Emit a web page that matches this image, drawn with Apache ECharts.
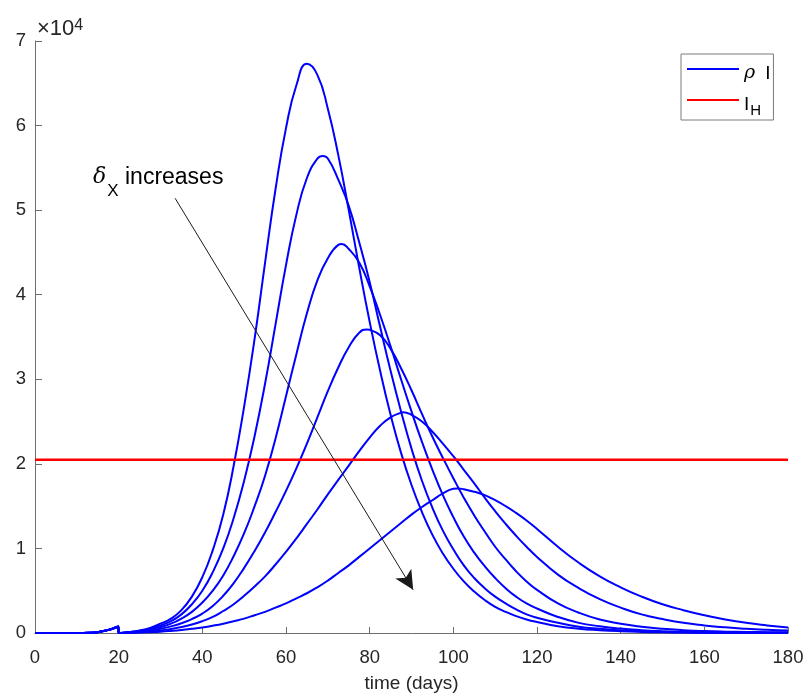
<!DOCTYPE html>
<html>
<head>
<meta charset="utf-8">
<script src="https://cdn.jsdelivr.net/npm/echarts@6/dist/echarts.min.js"></script>
<style>
  html, body { margin: 0; padding: 0; background: #fff; }
  #chart { width: 806px; height: 694px; }
</style>
</head>
<body>
<div id="chart"></div>
<script>
// time axis (days): shared start, then every 2.5 days up to 120, then every 5
const earlyDays = [0, 5, 10, 13, 15, 17, 18.5, 19.9]
const mainDays = [20, 22.5, 25, 27.5, 30, 32.5, 35, 37.5, 40, 42.5, 45, 47.5, 50,
  52.5, 55, 57.5, 60, 62.5, 65, 67.5, 70, 72.5, 75, 77.5, 80, 82.5, 85, 87.5, 90,
  92.5, 95, 97.5, 100, 102.5, 105, 107.5, 110, 112.5, 115, 117.5, 120,
  125, 130, 135, 140, 145, 150, 155, 160, 165, 170, 175, 180]

// shared part before day 20 (x10^4)
const early = [0, 0, 0, 0.003, 0.01, 0.03, 0.05, 0.078]

// rho*I for increasing delta_X, from day 20 on (x10^4)
const curve1 = [0, 0.012, 0.03, 0.06, 0.11, 0.17, 0.27, 0.43, 0.66, 0.98, 1.4, 1.98, 2.68,
  3.48, 4.38, 5.25, 5.97, 6.48, 6.73, 6.6, 6.2, 5.65, 5.0, 4.32, 3.68, 3.1, 2.58, 2.13, 1.75,
  1.43, 1.16, 0.94, 0.76, 0.61, 0.49, 0.39, 0.31, 0.25, 0.2, 0.16, 0.13,
  0.08, 0.05, 0.033, 0.021, 0.013, 0.008, 0.005, 0.003, 0.002, 0.0015, 0.001, 0.001]
const curve2 = [0, 0.01, 0.025, 0.05, 0.09, 0.14, 0.22, 0.34, 0.5, 0.72, 1.0, 1.36, 1.8,
  2.33, 2.95, 3.65, 4.35, 4.95, 5.38, 5.61, 5.61, 5.36, 5.05, 4.62, 4.15, 3.62, 3.1, 2.62, 2.18,
  1.8, 1.48, 1.21, 0.99, 0.8, 0.65, 0.53, 0.43, 0.35, 0.28, 0.22, 0.18,
  0.12, 0.075, 0.05, 0.032, 0.02, 0.013, 0.008, 0.005, 0.003, 0.002, 0.0015, 0.001]
const curve3 = [0, 0.008, 0.02, 0.04, 0.07, 0.11, 0.17, 0.25, 0.36, 0.5, 0.68, 0.91, 1.18,
  1.5, 1.86, 2.3, 2.8, 3.3, 3.78, 4.17, 4.43, 4.59, 4.54, 4.38, 4.1, 3.76, 3.39, 3.0, 2.62,
  2.26, 1.93, 1.63, 1.37, 1.14, 0.95, 0.79, 0.65, 0.53, 0.43, 0.35, 0.29,
  0.19, 0.12, 0.08, 0.052, 0.034, 0.022, 0.014, 0.009, 0.006, 0.004, 0.003, 0.002]
const curve4 = [0, 0.006, 0.015, 0.03, 0.05, 0.078, 0.115, 0.165, 0.23, 0.32, 0.44, 0.59, 0.77,
  0.97, 1.19, 1.43, 1.68, 1.95, 2.24, 2.55, 2.86, 3.14, 3.38, 3.55, 3.585, 3.52, 3.36, 3.13, 2.87,
  2.59, 2.32, 2.07, 1.83, 1.6, 1.39, 1.2, 1.02, 0.87, 0.73, 0.61, 0.51,
  0.35, 0.24, 0.16, 0.11, 0.075, 0.05, 0.034, 0.023, 0.016, 0.012, 0.01, 0.009]
const curve5 = [0, 0.004, 0.01, 0.019, 0.03, 0.048, 0.07, 0.1, 0.14, 0.19, 0.26, 0.34, 0.44,
  0.55, 0.67, 0.81, 0.96, 1.12, 1.29, 1.46, 1.64, 1.81, 1.98, 2.15, 2.31, 2.45, 2.55, 2.605, 2.58,
  2.5, 2.38, 2.24, 2.09, 1.93, 1.77, 1.6, 1.44, 1.29, 1.15, 1.02, 0.9,
  0.69, 0.53, 0.4, 0.3, 0.22, 0.165, 0.12, 0.09, 0.067, 0.05, 0.038, 0.03]
const curve6 = [0, 0.002, 0.005, 0.01, 0.016, 0.025, 0.036, 0.05, 0.066, 0.086, 0.11, 0.14, 0.17,
  0.21, 0.25, 0.3, 0.35, 0.41, 0.47, 0.54, 0.62, 0.71, 0.8, 0.9, 1.0, 1.1, 1.2, 1.3, 1.4,
  1.49, 1.57, 1.65, 1.705, 1.7, 1.67, 1.63, 1.57, 1.5, 1.42, 1.33, 1.23,
  1.02, 0.83, 0.67, 0.54, 0.43, 0.34, 0.27, 0.21, 0.16, 0.12, 0.09, 0.065]

// peak of each curve (day, x10^4)
const peakDays = [65, 68.8, 73.3, 79.3, 88.0, 101.0]
const peakValues = [6.73, 5.64, 4.6, 3.59, 2.61, 1.71]

// hospital capacity I_H (x10^4)
const hospitalLevel = 2.05

// annotation arrow, data coords [day, x10^4]
const arrowFrom = [33.5, 5.14]
const arrowTo = [90.4, 0.51]

const xTicks = { min: 0, max: 180, step: 20 }
const yTicks = { min: 0, max: 7, step: 1 }

const font = 'Liberation Sans, Arial, Helvetica, sans-serif'
const greek = 'DejaVu Serif, Liberation Serif, serif'

const chart = echarts.init(document.getElementById('chart'))

const days = earlyDays.concat(mainDays)
const curves = [curve1, curve2, curve3, curve4, curve5, curve6]
const series = curves.map(function(c, k) {
  const vals = early.concat(c)
  // grid points, plus the peak where it falls between grid days
  const pts = days.map(function(d, i) { return [d, vals[i]] })
    .filter(function(p) { return p[0] !== peakDays[k] })
  pts.push([peakDays[k], peakValues[k]])
  pts.sort(function(a, b) { return a[0] - b[0] })
  return {
    name: 'rhoI',
    type: 'line',
    smooth: 0.5,
    showSymbol: false,
    silent: true,
    lineStyle: { color: '#0000ff', width: 2 },
    itemStyle: { color: '#0000ff' },
    data: pts
  }
})

series.push({
  name: 'IH',
  type: 'line',
  showSymbol: false,
  silent: true,
  lineStyle: { color: '#ff0000', width: 2.5 },
  itemStyle: { color: '#ff0000' },
  data: [[xTicks.min, hospitalLevel], [xTicks.max, hospitalLevel]],
  markLine: {
    silent: true,
    symbol: ['none', 'arrow'],
    symbolSize: [14, 19],
    label: { show: false },
    lineStyle: { color: '#1a1a1a', width: 1, type: 'solid' },
    data: [[{ coord: arrowFrom }, { coord: arrowTo }]]
  }
})

const option = {
  animation: false,
  backgroundColor: '#fff',
  grid: { left: 35, right: 18, top: 41, bottom: 61, containLabel: false, outerBoundsMode: 'none' },
  xAxis: {
    type: 'value',
    min: xTicks.min,
    max: xTicks.max,
    interval: xTicks.step,
    name: 'time (days)',
    nameLocation: 'middle',
    nameGap: 41,
    nameTextStyle: { fontFamily: font, fontSize: 19, color: '#262626' },
    axisLine: { lineStyle: { color: '#6e6e6e', width: 1 } },
    axisTick: { inside: true, length: 6, lineStyle: { color: '#6e6e6e' } },
    axisLabel: { fontFamily: font, fontSize: 18.5, color: '#262626', margin: 15 },
    splitLine: { show: false }
  },
  yAxis: {
    type: 'value',
    min: yTicks.min,
    max: yTicks.max,
    interval: yTicks.step,
    axisLine: { show: true, lineStyle: { color: '#6e6e6e', width: 1 } },
    axisTick: { show: true, inside: true, length: 7, lineStyle: { color: '#6e6e6e' } },
    axisLabel: { fontFamily: font, fontSize: 18.5, color: '#262626', margin: 9 },
    splitLine: { show: false }
  },
  legend: {
    orient: 'vertical',
    left: 681,
    top: 54,
    padding: [4, 3, 2, 6],
    itemGap: 6,
    itemWidth: 52,
    itemHeight: 2,
    icon: 'rect',
    borderColor: '#7a7a7a',
    borderWidth: 1,
    backgroundColor: '#fff',
    selectedMode: false,
    data: ['rhoI', 'IH'],
    formatter: function(name) {
      return name === 'rhoI' ? '{g|ρ}{i|I}' : '{t|I}{s|H}'
    },
    textStyle: {
      fontFamily: font,
      fontSize: 19,
      color: '#000',
      rich: {
        g: { fontFamily: greek, fontStyle: 'italic', fontSize: 19, lineHeight: 22, verticalAlign: 'top', padding: [6, 0, 0, 0] },
        i: { fontFamily: font, fontSize: 19, lineHeight: 22, verticalAlign: 'top', padding: [6, 0, 0, 10] },
        t: { fontFamily: font, fontSize: 19, lineHeight: 22, verticalAlign: 'top', padding: [6, 0, 0, 0] },
        s: { fontFamily: font, fontSize: 15, lineHeight: 14, verticalAlign: 'top', padding: [14, 0, 0, 1] }
      }
    }
  },
  graphic: [
    {
      type: 'text',
      left: 37,
      top: 18,
      silent: true,
      style: {
        text: '{a|×10}{b|4}',
        fill: '#262626',
        rich: {
          a: { fontFamily: font, fontSize: 22, lineHeight: 25, verticalAlign: 'top' },
          b: { fontFamily: font, fontSize: 16, lineHeight: 9, verticalAlign: 'top' }
        }
      }
    },
    {
      type: 'text',
      left: 93,
      top: 166,
      silent: true,
      style: {
        text: '{d|δ}{x|X}{t| increases}',
        fill: '#000',
        rich: {
          d: { fontFamily: greek, fontStyle: 'italic', fontSize: 22, lineHeight: 26, verticalAlign: 'top' },
          x: { fontFamily: font, fontSize: 17, lineHeight: 18, verticalAlign: 'top', padding: [17, 0, 0, 1] },
          t: { fontFamily: font, fontSize: 23, lineHeight: 26, verticalAlign: 'top' }
        }
      }
    }
  ],
  series: series
}

chart.setOption(option)
</script>
</body>
</html>
